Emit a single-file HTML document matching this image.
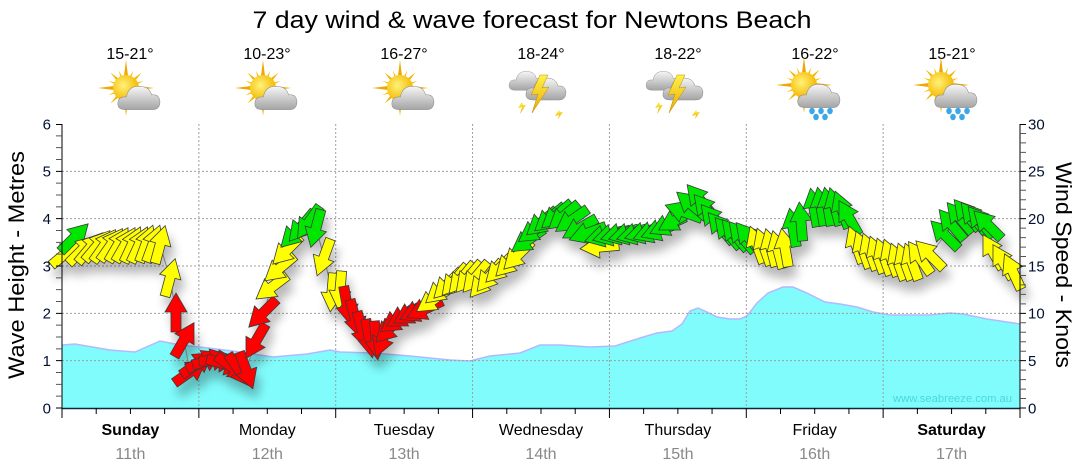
<!DOCTYPE html>
<html><head><meta charset="utf-8"><style>
html,body{margin:0;padding:0;background:#fff;}
svg{display:block;}
.r{fill:#ff0000}.y{fill:#ffff00}.g{fill:#00e600}
text{font-family:"Liberation Sans",sans-serif;}
</style></head><body>
<svg width="1080" height="475" viewBox="0 0 1080 475" xmlns="http://www.w3.org/2000/svg">
<defs>
<path id="ar" d="M0,-20 L11,-1 L5,-1 L5,19 L-5,19 L-5,-1 L-11,-1 Z" stroke="#3a3a3a" stroke-width="0.8" stroke-linejoin="miter"/>
<filter id="sh" x="-10%" y="-20%" width="120%" height="160%">
<feGaussianBlur in="SourceAlpha" stdDeviation="5"/>
<feOffset dx="4" dy="10"/>
<feComponentTransfer><feFuncA type="linear" slope="0.28"/></feComponentTransfer>
<feMerge><feMergeNode/><feMergeNode in="SourceGraphic"/></feMerge>
</filter>
<radialGradient id="sunG" cx="40%" cy="40%" r="60%"><stop offset="0" stop-color="#fff27a"/><stop offset="1" stop-color="#f5b800"/></radialGradient>
<linearGradient id="clG" x1="0" y1="0" x2="0" y2="1"><stop offset="0" stop-color="#f6f6f6"/><stop offset="1" stop-color="#a4a4a4"/></linearGradient>
<linearGradient id="ltG" x1="0" y1="0" x2="0" y2="1"><stop offset="0" stop-color="#fff34a"/><stop offset="1" stop-color="#e8a800"/></linearGradient>
<g id="rays">
<path d="M-3.5,0 L0,-28 L3.5,0 Z M-3.5,0 L0,28 L3.5,0 Z M0,-3.5 L-28,0 L0,3.5 Z M0,-3.5 L28,0 L0,3.5 Z" fill="#f0a800"/>
<path d="M-3,0 L0,-22 L3,0 Z M-3,0 L0,22 L3,0 Z M0,-3 L-22,0 L0,3 Z M0,-3 L22,0 L0,3 Z" fill="#f5b400" transform="rotate(45)"/>
<path d="M-2.5,0 L0,-19 L2.5,0 Z M-2.5,0 L0,19 L2.5,0 Z M0,-2.5 L-19,0 L0,2.5 Z M0,-2.5 L19,0 L0,2.5 Z" fill="#f7c000" transform="rotate(22.5)"/>
<path d="M-2.5,0 L0,-19 L2.5,0 Z M-2.5,0 L0,19 L2.5,0 Z M0,-2.5 L-19,0 L0,2.5 Z M0,-2.5 L19,0 L0,2.5 Z" fill="#f7c000" transform="rotate(67.5)"/>
</g>
<g id="cloud">
<path d="M-14,12 Q-22,12 -21,5 Q-20,-1 -13,0 Q-11,-11 0,-10 Q9,-10 11,-2 Q18,-3 19,4 Q19,12 12,12 Z" fill="url(#clG)" stroke="#8a8a8a" stroke-width="0.5"/>
</g>
<g id="sc">
<use href="#rays" transform="translate(-4,-4)"/>
<circle cx="-4" cy="-4" r="13" fill="url(#sunG)"/>
<use href="#cloud" transform="translate(10,5) scale(1.05)"/>
</g>
<g id="th">
<use href="#cloud" transform="translate(-14,-8) scale(0.85)"/>
<path d="M-19,14 L-23,20 L-19,19 L-21,26 L-15,17 L-18,17 Z" fill="url(#ltG)"/>
<path d="M18,22 L14,28 L18,27 L17,31 L22,24 L19,24 Z" fill="url(#ltG)"/>
<use href="#cloud" transform="translate(6,0)"/>
<path d="M-1,-13 L-10,7 L-3,6 L-9,25 L8,-1 L1,0 L7,-13 Z" fill="url(#ltG)" stroke="#c08a00" stroke-width="0.5"/>
</g>
<g id="rn">
<use href="#rays" transform="translate(-11,-7)"/>
<circle cx="-11" cy="-7" r="13" fill="url(#sunG)"/>
<use href="#cloud" transform="translate(5,3) scale(1.05)"/>
<g fill="#3aa8e8">
<ellipse cx="-3" cy="19" rx="2.8" ry="3.2"/><ellipse cx="6" cy="19" rx="2.8" ry="3.2"/><ellipse cx="15" cy="19" rx="2.8" ry="3.2"/>
<ellipse cx="1" cy="25" rx="2.8" ry="3.2"/><ellipse cx="10" cy="25" rx="2.8" ry="3.2"/>
</g>
</g>
</defs>
<rect width="1080" height="475" fill="#fff"/>

<text x="532" y="28" font-size="24" text-anchor="middle" fill="#000" textLength="559" lengthAdjust="spacingAndGlyphs">7 day wind &amp; wave forecast for Newtons Beach</text>

<g font-size="16" fill="#000" text-anchor="middle">
<text x="130" y="59">15-21°</text>
<text x="267" y="59">10-23°</text>
<text x="404" y="59">16-27°</text>
<text x="541" y="59">18-24°</text>
<text x="678" y="59">18-22°</text>
<text x="815" y="59">16-22°</text>
<text x="952" y="59">15-21°</text>
</g>
<use href="#sc" transform="translate(130,92)"/>
<use href="#sc" transform="translate(267,92)"/>
<use href="#sc" transform="translate(404,92)"/>
<use href="#th" transform="translate(541,88)"/>
<use href="#th" transform="translate(678,88)"/>
<use href="#rn" transform="translate(815,92)"/>
<use href="#rn" transform="translate(952,92)"/>

<polygon points="62,345 75,344 110,350 135,352 160,341 180,345 200,347 240,352 273,357 307,354 330,350 340,352 373,353 410,356 450,360 470,361 490,356 520,353 540,345 560,345 590,347 615,346 640,338 657,333 672,331 682,324 690,311 698,308 707,312 717,317 730,319 740,319 747,316 757,303 768,293 783,287 793,287 807,293 825,302 840,304 857,307 873,312 890,315 930,315 950,313 963,314 987,319 1020,324 1020,408 62,408" fill="#80fcfc"/>
<polyline points="62,345 75,344 110,350 135,352 160,341 180,345 200,347 240,352 273,357 307,354 330,350 340,352 373,353 410,356 450,360 470,361 490,356 520,353 540,345 560,345 590,347 615,346 640,338 657,333 672,331 682,324 690,311 698,308 707,312 717,317 730,319 740,319 747,316 757,303 768,293 783,287 793,287 807,293 825,302 840,304 857,307 873,312 890,315 930,315 950,313 963,314 987,319 1020,324" fill="none" stroke="#b4b8ff" stroke-width="1.5"/>

<text x="893" y="402" font-size="11" fill="#4cd6dc" textLength="119" lengthAdjust="spacingAndGlyphs">www.seabreeze.com.au</text>

<g stroke="#a0a0a0" stroke-width="1" stroke-dasharray="2,2" fill="none">
<path d="M62,360.67H1020M62,313.33H1020M62,266H1020M62,218.67H1020M62,171.33H1020"/>
<path d="M198.86,124V408M335.71,124V408M472.57,124V408M609.43,124V408M746.29,124V408M883.14,124V408"/>
</g>

<polyline fill="none" stroke="#999" stroke-width="1" points="66,253 74,238 82,250 90,248 97,246 104,246 111,245 118,245 125,245 132,245 139,245 146,244 153,244 160,245 170,278 176,313 184,340 190,372 197,364 204,361 211,360 218,361 225,364 232,367 239,370 246,370 256,341 263,313 272,287 280,268 287,250 295,233 302,226 309,222 316,228 324,257 332,292 340,290 347,305 355,318 362,330 369,338 376,340 383,338 390,328 397,320 404,316 411,313 418,311 425,309 433,300 441,290 448,284 455,280 462,278 469,277 476,277 483,282 490,276 500,268 510,262 518,255 528,240 535,230 542,222 550,218 557,215 564,216 572,220 580,228 588,233 600,247 604,236 612,235 620,234 628,234 636,234 644,233 652,232 660,230 668,225 676,220 684,212 692,205 700,200 707,210 714,220 721,228 728,233 735,235 742,237 749,238 757,245 764,247 771,248 778,250 785,248 793,228 801,222 814,208 821,207 828,207 835,207 842,210 849,218 856,245 863,250 870,252 877,255 884,257 891,258 898,262 905,262 912,262 920,258 930,255 945,235 952,225 960,218 967,215 974,218 981,222 988,225 993,252 1003,262 1013,272"/>

<g filter="url(#sh)">
<use href="#ar" class="y" transform="translate(66,253) rotate(50)"/>
<use href="#ar" class="g" transform="translate(74,238) rotate(45)"/>
<use href="#ar" class="y" transform="translate(82,250) rotate(45)"/>
<use href="#ar" class="y" transform="translate(90,248) rotate(40)"/>
<use href="#ar" class="y" transform="translate(97,246) rotate(40)"/>
<use href="#ar" class="y" transform="translate(104,246) rotate(35)"/>
<use href="#ar" class="y" transform="translate(111,245) rotate(35)"/>
<use href="#ar" class="y" transform="translate(118,245) rotate(30)"/>
<use href="#ar" class="y" transform="translate(125,245) rotate(30)"/>
<use href="#ar" class="y" transform="translate(132,245) rotate(25)"/>
<use href="#ar" class="y" transform="translate(139,245) rotate(25)"/>
<use href="#ar" class="y" transform="translate(146,244) rotate(20)"/>
<use href="#ar" class="y" transform="translate(153,244) rotate(20)"/>
<use href="#ar" class="y" transform="translate(160,245) rotate(15)"/>
<use href="#ar" class="y" transform="translate(170,278) rotate(15)"/>
<use href="#ar" class="r" transform="translate(176,313) rotate(0)"/>
<use href="#ar" class="r" transform="translate(184,340) rotate(30)"/>
<use href="#ar" class="r" transform="translate(190,372) rotate(55)"/>
<use href="#ar" class="r" transform="translate(197,364) rotate(55)"/>
<use href="#ar" class="r" transform="translate(204,361) rotate(65)"/>
<use href="#ar" class="r" transform="translate(211,360) rotate(75)"/>
<use href="#ar" class="r" transform="translate(218,361) rotate(90)"/>
<use href="#ar" class="r" transform="translate(225,364) rotate(105)"/>
<use href="#ar" class="r" transform="translate(232,367) rotate(125)"/>
<use href="#ar" class="r" transform="translate(239,370) rotate(145)"/>
<use href="#ar" class="r" transform="translate(246,370) rotate(160)"/>
<use href="#ar" class="r" transform="translate(256,341) rotate(210)"/>
<use href="#ar" class="r" transform="translate(263,313) rotate(225)"/>
<use href="#ar" class="y" transform="translate(272,287) rotate(233)"/>
<use href="#ar" class="y" transform="translate(280,268) rotate(230)"/>
<use href="#ar" class="y" transform="translate(287,250) rotate(225)"/>
<use href="#ar" class="g" transform="translate(295,233) rotate(225)"/>
<use href="#ar" class="g" transform="translate(302,226) rotate(220)"/>
<use href="#ar" class="g" transform="translate(309,222) rotate(215)"/>
<use href="#ar" class="g" transform="translate(316,228) rotate(195)"/>
<use href="#ar" class="y" transform="translate(324,257) rotate(200)"/>
<use href="#ar" class="y" transform="translate(332,292) rotate(185)"/>
<use href="#ar" class="y" transform="translate(340,290) rotate(185)"/>
<use href="#ar" class="r" transform="translate(347,305) rotate(170)"/>
<use href="#ar" class="r" transform="translate(355,318) rotate(165)"/>
<use href="#ar" class="r" transform="translate(362,330) rotate(165)"/>
<use href="#ar" class="r" transform="translate(369,338) rotate(170)"/>
<use href="#ar" class="r" transform="translate(376,340) rotate(175)"/>
<use href="#ar" class="r" transform="translate(383,338) rotate(200)"/>
<use href="#ar" class="r" transform="translate(390,328) rotate(225)"/>
<use href="#ar" class="r" transform="translate(397,320) rotate(235)"/>
<use href="#ar" class="r" transform="translate(404,316) rotate(240)"/>
<use href="#ar" class="r" transform="translate(411,313) rotate(240)"/>
<use href="#ar" class="r" transform="translate(418,311) rotate(245)"/>
<use href="#ar" class="r" transform="translate(425,309) rotate(245)"/>
<use href="#ar" class="y" transform="translate(433,300) rotate(235)"/>
<use href="#ar" class="y" transform="translate(441,290) rotate(230)"/>
<use href="#ar" class="y" transform="translate(448,284) rotate(225)"/>
<use href="#ar" class="y" transform="translate(455,280) rotate(220)"/>
<use href="#ar" class="y" transform="translate(462,278) rotate(220)"/>
<use href="#ar" class="y" transform="translate(469,277) rotate(220)"/>
<use href="#ar" class="y" transform="translate(476,277) rotate(220)"/>
<use href="#ar" class="y" transform="translate(483,282) rotate(220)"/>
<use href="#ar" class="y" transform="translate(490,276) rotate(220)"/>
<use href="#ar" class="y" transform="translate(500,268) rotate(225)"/>
<use href="#ar" class="y" transform="translate(510,262) rotate(225)"/>
<use href="#ar" class="y" transform="translate(518,255) rotate(225)"/>
<use href="#ar" class="g" transform="translate(528,240) rotate(235)"/>
<use href="#ar" class="g" transform="translate(535,230) rotate(235)"/>
<use href="#ar" class="g" transform="translate(542,222) rotate(230)"/>
<use href="#ar" class="g" transform="translate(550,218) rotate(230)"/>
<use href="#ar" class="g" transform="translate(557,215) rotate(230)"/>
<use href="#ar" class="g" transform="translate(564,216) rotate(230)"/>
<use href="#ar" class="g" transform="translate(572,220) rotate(235)"/>
<use href="#ar" class="g" transform="translate(580,228) rotate(240)"/>
<use href="#ar" class="g" transform="translate(588,233) rotate(250)"/>
<use href="#ar" class="y" transform="translate(600,247) rotate(265)"/>
<use href="#ar" class="g" transform="translate(604,236) rotate(255)"/>
<use href="#ar" class="g" transform="translate(612,235) rotate(255)"/>
<use href="#ar" class="g" transform="translate(620,234) rotate(255)"/>
<use href="#ar" class="g" transform="translate(628,234) rotate(255)"/>
<use href="#ar" class="g" transform="translate(636,234) rotate(255)"/>
<use href="#ar" class="g" transform="translate(644,233) rotate(255)"/>
<use href="#ar" class="g" transform="translate(652,232) rotate(250)"/>
<use href="#ar" class="g" transform="translate(660,230) rotate(250)"/>
<use href="#ar" class="g" transform="translate(668,225) rotate(245)"/>
<use href="#ar" class="g" transform="translate(676,220) rotate(240)"/>
<use href="#ar" class="g" transform="translate(684,212) rotate(290)"/>
<use href="#ar" class="g" transform="translate(692,205) rotate(310)"/>
<use href="#ar" class="g" transform="translate(700,200) rotate(320)"/>
<use href="#ar" class="g" transform="translate(707,210) rotate(320)"/>
<use href="#ar" class="g" transform="translate(714,220) rotate(320)"/>
<use href="#ar" class="g" transform="translate(721,228) rotate(320)"/>
<use href="#ar" class="g" transform="translate(728,233) rotate(320)"/>
<use href="#ar" class="g" transform="translate(735,235) rotate(320)"/>
<use href="#ar" class="g" transform="translate(742,237) rotate(320)"/>
<use href="#ar" class="g" transform="translate(749,238) rotate(320)"/>
<use href="#ar" class="y" transform="translate(757,245) rotate(340)"/>
<use href="#ar" class="y" transform="translate(764,247) rotate(340)"/>
<use href="#ar" class="y" transform="translate(771,248) rotate(345)"/>
<use href="#ar" class="y" transform="translate(778,250) rotate(345)"/>
<use href="#ar" class="y" transform="translate(785,248) rotate(350)"/>
<use href="#ar" class="g" transform="translate(793,228) rotate(350)"/>
<use href="#ar" class="g" transform="translate(801,222) rotate(355)"/>
<use href="#ar" class="g" transform="translate(814,208) rotate(350)"/>
<use href="#ar" class="g" transform="translate(821,207) rotate(350)"/>
<use href="#ar" class="g" transform="translate(828,207) rotate(350)"/>
<use href="#ar" class="g" transform="translate(835,207) rotate(345)"/>
<use href="#ar" class="g" transform="translate(842,210) rotate(340)"/>
<use href="#ar" class="g" transform="translate(849,218) rotate(330)"/>
<use href="#ar" class="y" transform="translate(856,245) rotate(340)"/>
<use href="#ar" class="y" transform="translate(863,250) rotate(340)"/>
<use href="#ar" class="y" transform="translate(870,252) rotate(340)"/>
<use href="#ar" class="y" transform="translate(877,255) rotate(340)"/>
<use href="#ar" class="y" transform="translate(884,257) rotate(340)"/>
<use href="#ar" class="y" transform="translate(891,258) rotate(340)"/>
<use href="#ar" class="y" transform="translate(898,262) rotate(340)"/>
<use href="#ar" class="y" transform="translate(905,262) rotate(340)"/>
<use href="#ar" class="y" transform="translate(912,262) rotate(340)"/>
<use href="#ar" class="y" transform="translate(920,258) rotate(325)"/>
<use href="#ar" class="y" transform="translate(930,255) rotate(315)"/>
<use href="#ar" class="g" transform="translate(945,235) rotate(315)"/>
<use href="#ar" class="g" transform="translate(952,225) rotate(320)"/>
<use href="#ar" class="g" transform="translate(960,218) rotate(320)"/>
<use href="#ar" class="g" transform="translate(967,215) rotate(320)"/>
<use href="#ar" class="g" transform="translate(974,218) rotate(320)"/>
<use href="#ar" class="g" transform="translate(981,222) rotate(320)"/>
<use href="#ar" class="g" transform="translate(988,225) rotate(315)"/>
<use href="#ar" class="y" transform="translate(993,252) rotate(330)"/>
<use href="#ar" class="y" transform="translate(1003,262) rotate(330)"/>
<use href="#ar" class="y" transform="translate(1013,272) rotate(335)"/>
</g>

<g stroke-width="1" fill="none">
<path d="M62,124V408" stroke="#000"/>
<path d="M1020,124V408" stroke="#000"/>
<path d="M62,408.5H1020" stroke="#0a2a40" stroke-width="1.5"/>
<path stroke="#555" d="M56,396.17H62M56,384.33H62M56,372.5H62M56,348.83H62M56,337H62M56,325.17H62M56,301.5H62M56,289.67H62M56,277.83H62M56,254.17H62M56,242.33H62M56,230.5H62M56,206.83H62M56,195H62M56,183.17H62M56,159.5H62M56,147.67H62M56,135.83H62"/>
<path stroke="#000" d="M56,408H62M56,360.67H62M56,313.33H62M56,266H62M56,218.67H62M56,171.33H62M56,124.5H62"/>
<path stroke="#555" d="M1020,398.53h6M1020,389.07h6M1020,379.6h6M1020,370.13h6M1020,351.2h6M1020,341.73h6M1020,332.27h6M1020,322.8h6M1020,303.87h6M1020,294.4h6M1020,284.93h6M1020,275.47h6M1020,256.53h6M1020,247.07h6M1020,237.6h6M1020,228.13h6M1020,209.2h6M1020,199.73h6M1020,190.27h6M1020,180.8h6M1020,161.87h6M1020,152.4h6M1020,142.93h6M1020,133.47h6"/>
<path stroke="#000" d="M1020,408h6M1020,360.67h6M1020,313.33h6M1020,266h6M1020,218.67h6M1020,171.33h6M1020,124.5h6"/>
<path stroke="#000" d="M96.21,408v6M130.43,408v6M164.64,408v6M233.07,408v6M267.29,408v6M301.5,408v6M369.93,408v6M404.14,408v6M438.36,408v6M506.79,408v6M541,408v6M575.21,408v6M643.64,408v6M677.86,408v6M712.07,408v6M780.5,408v6M814.71,408v6M848.93,408v6M917.36,408v6M951.57,408v6M985.79,408v6"/>
<path stroke="#000" d="M62,408v10M198.86,408v10M335.71,408v10M472.57,408v10M609.43,408v10M746.29,408v10M883.14,408v10M1020,408v10"/>
</g>

<g font-size="15" fill="#001030" text-anchor="end">
<text x="51" y="413.5">0</text>
<text x="51" y="366">1</text>
<text x="51" y="318.5">2</text>
<text x="51" y="271.5">3</text>
<text x="51" y="224">4</text>
<text x="51" y="176.5">5</text>
<text x="51" y="129.5">6</text>
</g>
<g font-size="15" fill="#001030" text-anchor="start">
<text x="1028" y="413.5">0</text>
<text x="1028" y="366">5</text>
<text x="1028" y="318.5">10</text>
<text x="1028" y="271.5">15</text>
<text x="1028" y="224">20</text>
<text x="1028" y="176.5">25</text>
<text x="1028" y="129.5">30</text>
</g>

<text transform="translate(24,265) rotate(-90)" font-size="22" text-anchor="middle" fill="#000" textLength="228" lengthAdjust="spacingAndGlyphs">Wave Height - Metres</text>
<text transform="translate(1056,265) rotate(90)" font-size="22" text-anchor="middle" fill="#000" textLength="206" lengthAdjust="spacingAndGlyphs">Wind Speed - Knots</text>

<g font-size="16" fill="#000" text-anchor="middle">
<text x="130.4" y="435" font-weight="bold">Sunday</text>
<text x="267.3" y="435">Monday</text>
<text x="404.1" y="435">Tuesday</text>
<text x="541" y="435">Wednesday</text>
<text x="677.9" y="435">Thursday</text>
<text x="814.7" y="435">Friday</text>
<text x="951.6" y="435" font-weight="bold">Saturday</text>
</g>
<g font-size="16" fill="#888" text-anchor="middle" style="font-family:'DejaVu Sans',sans-serif">
<text x="130.4" y="459">11th</text>
<text x="267.3" y="459">12th</text>
<text x="404.1" y="459">13th</text>
<text x="541" y="459">14th</text>
<text x="677.9" y="459">15th</text>
<text x="814.7" y="459">16th</text>
<text x="951.6" y="459">17th</text>
</g>
</svg>
</body></html>
